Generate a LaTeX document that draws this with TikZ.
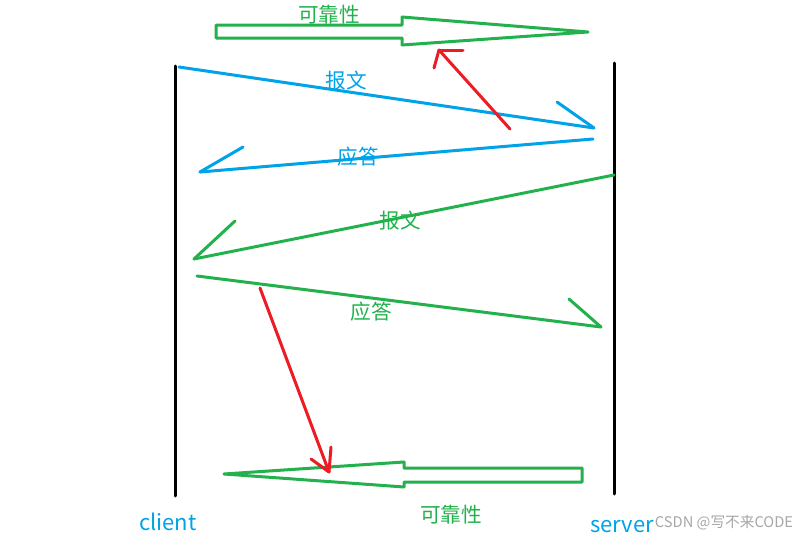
\documentclass[tikz,border=0pt]{standalone}
\usepackage{fontspec}
\newfontfamily\cjk{Noto Sans CJK SC}
\usepackage{tkz-euclide}
\definecolor{paintblue}{HTML}{00A2E8}
\definecolor{paintgreen}{HTML}{22B14C}
\definecolor{paintred}{HTML}{ED1C24}
\tikzset{lbl/.style={inner sep=0pt,font=\cjk\fontsize{15.5pt}{16pt}\selectfont},
  endlbl/.style={inner sep=0pt,text=paintblue,font=\cjk\fontsize{16.5pt}{17pt}\selectfont}}

\begin{document}
\begin{tikzpicture}[x=0.75pt,y=-0.75pt]
\useasboundingbox (0,0) rectangle (808,539);
\tkzSetUpLine[line width=2.25pt,color=black]

\tkzDefPoints{175/66/C1,175/496/C2,614/63/S1,614/494/S2}
\tkzDefPoints{216/25/T1,402/25/T2,402/17/T3,588/32/T4,402/45/T5,402/38/T6,216/38/T7}
\tkzDefPoints{582/468/U1,404/468/U2,404/462/U3,224/474/U4,404/487/U5,404/482/U6,582/482/U7}
\tkzDefPoints{179/67/Pa,594/128/Pb,557/102/Pc}
\tkzDefPoints{593/139/Qa,200/172/Qb,243/147/Qc}
\tkzDefPoints{614/175/Ra,194/259/Rb,235/221/Rc}
\tkzDefPoints{197/276/Ea,601/327/Eb,569/299/Ec}
\tkzDefPoints{510/129/Ka,439/50/Kb,434/68/Kc,463/50/Kd}
\tkzDefPoints{260/288/La,329/472/Lb,311/459/Lc,331/447/Ld}

\tkzDrawSegments[line width=2.25pt](C1,C2 S1,S2)

\tkzDrawPolygon[color=paintgreen](T1,T2,T3,T4,T5,T6,T7)
\tkzDrawPolygon[color=paintgreen](U1,U2,U3,U4,U5,U6,U7)

\tkzDrawSegments[color=paintblue](Pa,Pb Pc,Pb Qa,Qb Qc,Qb)
\tkzDrawSegments[color=paintgreen](Ra,Rb Rc,Rb Ea,Eb Ec,Eb)
\tkzDrawSegments[color=paintred](Ka,Kb Kc,Kb Kd,Kb La,Lb Lc,Lb Ld,Lb)

\node[lbl,text=paintgreen] (relTop) at (329,15) {可靠性};
\node[lbl,text=paintgreen] (relBot) at (451,515) {可靠性};
\node[lbl,text=paintblue] (msgOne) at (346,81) {报文};
\node[lbl,text=paintblue] (ackOne) at (358,157) {应答};
\node[lbl,text=paintgreen] (msgTwo) at (400,221) {报文};
\node[lbl,text=paintgreen] (ackTwo) at (371,312) {应答};

\node[endlbl] (client) at (168,522) {client};
\node[endlbl] (server) at (622,527) {server};
\node[inner sep=0pt,text=black!35,font=\cjk\fontsize{11pt}{12pt}\selectfont] (mark) at (724,523) {CSDN @写不来CODE};
\end{tikzpicture}
\end{document}
